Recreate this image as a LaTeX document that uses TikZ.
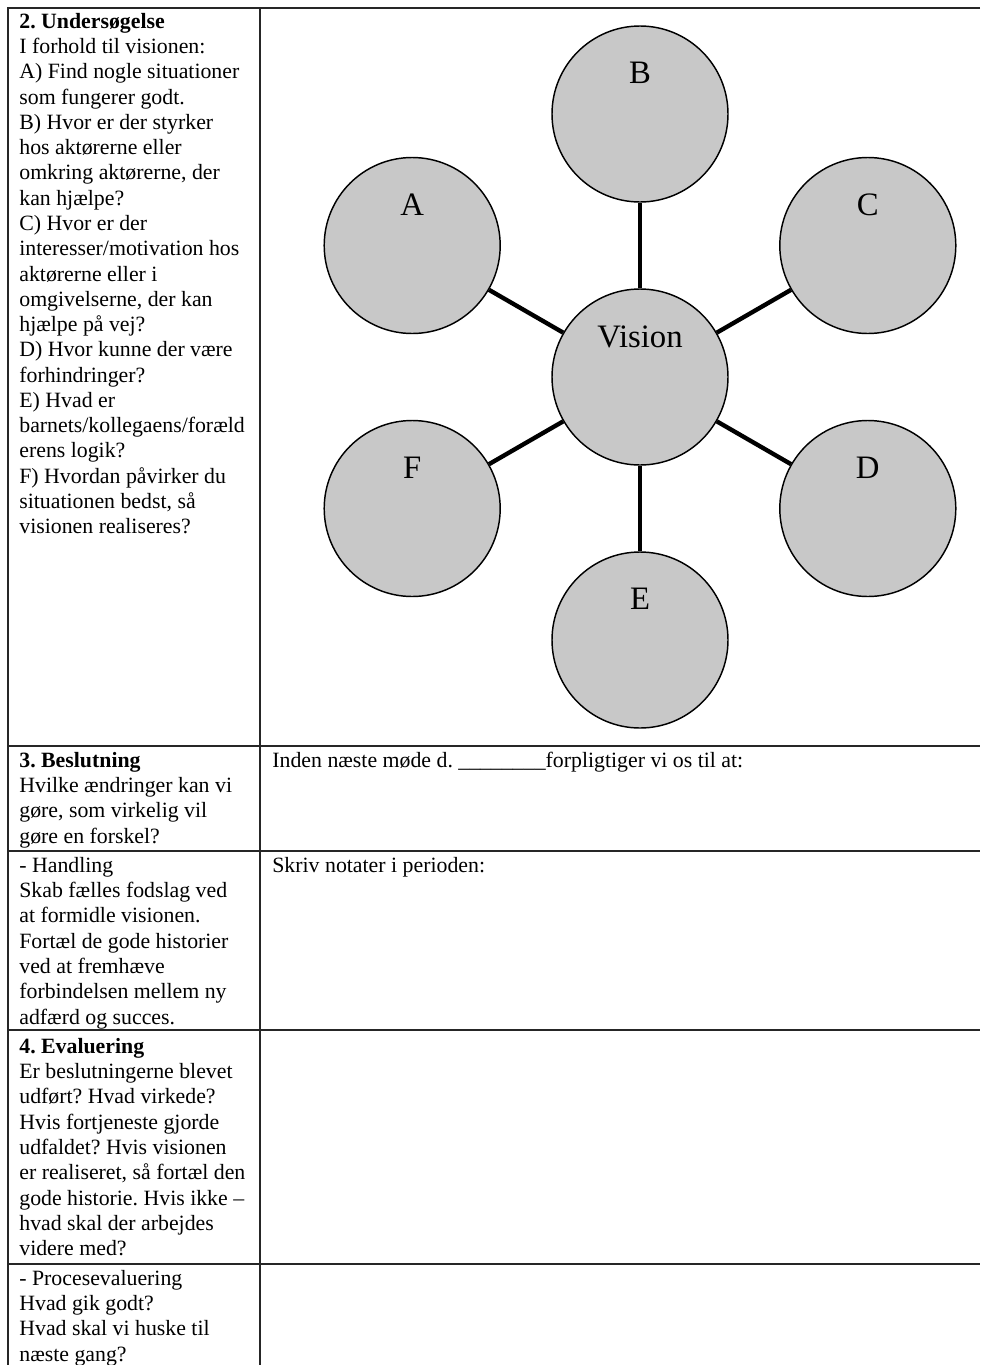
\documentclass[tikz,border=0pt]{standalone}
\usepackage{fontspec}
\setmainfont{Liberation Serif}
\definecolor{bubblegray}{RGB}{200,200,200}
\frenchspacing
\begin{document}
\begin{tikzpicture}[x=0.55pt,y=-0.55pt,
  grid/.style={line width=0.6pt, draw=black!85},
  bubble/.style={circle, draw=black, line width=0.8pt, fill=bubblegray,
    minimum size=96.8pt, inner sep=0pt},
  tag/.style={font=\fontsize{18}{21}\selectfont, inner sep=0pt},
  spoke/.style={line width=2.4pt, draw=black},
  cell/.style={anchor=north west, align=left, inner sep=0pt,
    font=\fontsize{12}{13.9}\selectfont}]

% page frame
\useasboundingbox (0,0) rectangle (980,1365);

% table rules
\draw[grid] (980,8) -- (8,8) -- (8,1365);
\draw[grid] (260,8) -- (260,1365);
\foreach \yy in {746,851,1030,1264}
  \draw[grid] (8,\yy) -- (980,\yy);

% left column texts
\node[cell] (undersoegelse) at (19,10.3) {\strut\textbf{2. Undersøgelse}\\
I forhold til visionen:\\
A) Find nogle situationer\\
som fungerer godt.\\
B) Hvor er der styrker\\
hos aktørerne eller\\
omkring aktørerne, der\\
kan hjælpe?\\
C) Hvor er der\\
interesser/motivation hos\\
aktørerne eller i\\
omgivelserne, der kan\\
hjælpe på vej?\\
D) Hvor kunne der være\\
forhindringer?\\
E) Hvad er\\
barnets/kollegaens/foræld\\
erens logik?\\
F) Hvordan påvirker du\\
situationen bedst, så\\
visionen realiseres?};

\node[cell] (beslutning) at (19,749.3) {\strut\textbf{3. Beslutning}\\
Hvilke ændringer kan vi\\
gøre, som virkelig vil\\
gøre en forskel?};

\node[cell] (handling) at (19,854.3) {\strut- Handling\\
Skab fælles fodslag ved\\
at formidle visionen.\\
Fortæl de gode historier\\
ved at fremhæve\\
forbindelsen mellem ny\\
adfærd og succes.};

\node[cell] (evaluering) at (19,1035.3) {\strut\textbf{4. Evaluering}\\
Er beslutningerne blevet\\
udført? Hvad virkede?\\
Hvis fortjeneste gjorde\\
udfaldet? Hvis visionen\\
er realiseret, så fortæl den\\
gode historie. Hvis ikke –\\
hvad skal der arbejdes\\
videre med?};

\node[cell] (proces) at (19,1267.3) {\strut- Procesevaluering\\
Hvad gik godt?\\
Hvad skal vi huske til\\
næste gang?};

% right column texts
\node[cell] (inden) at (272,749.3) {\strut Inden næste møde d. \_\_\_\_\_\_\_\_forpligtiger vi os til at:};
\node[cell] (notater) at (272,854.3) {\strut Skriv notater i perioden:};

% vision diagram
\node[bubble] (vis) at (640,377) {};
\node[bubble] (b) at (640,114) {};
\node[bubble] (c) at (867.8,245.5) {};
\node[bubble] (d) at (867.8,508.5) {};
\node[bubble] (e) at (640,640) {};
\node[bubble] (f) at (412.2,508.5) {};
\node[bubble] (a) at (412.2,245.5) {};

\foreach \n in {a,b,c,d,e,f}
  \draw[spoke] (vis) -- (\n);

\node[tag] (vistag) at (640,337) {Vision};
\node[tag] (btag) at (640,73) {B};
\node[tag] (ctag) at (867.8,205) {C};
\node[tag] (dtag) at (867.8,468) {D};
\node[tag] (etag) at (640,599) {E};
\node[tag] (ftag) at (412.2,468) {F};
\node[tag] (atag) at (412.2,205) {A};
\end{tikzpicture}
\end{document}
